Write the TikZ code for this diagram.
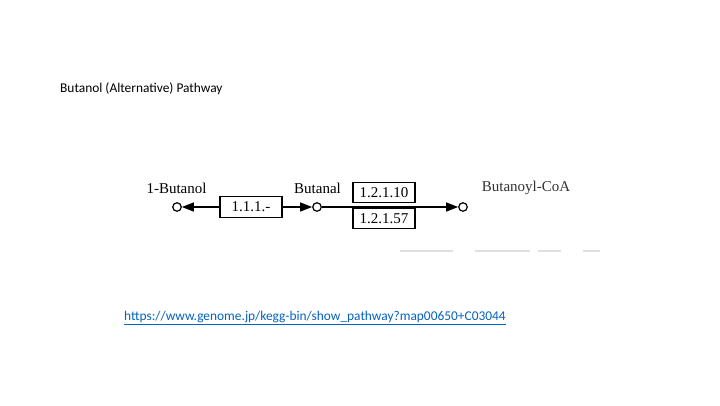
\documentclass[tikz,border=0pt]{standalone}
\usepackage{fontspec}
\setmainfont{Carlito}
\newfontfamily\diagfont{Liberation Serif}
\usetikzlibrary{arrows.meta}
\definecolor{linkblue}{HTML}{0563C1}
\begin{document}
\begin{tikzpicture}[x=1pt,y=-1pt,
  slidetext/.style={anchor=west,inner sep=0pt,font=\fontsize{13.4}{16}\selectfont},
  cpd/.style={circle,draw,line width=1.2pt,minimum size=8.5pt,inner sep=0pt,fill=white},
  cpdlabel/.style={inner sep=0pt,font=\diagfont\fontsize{15}{18}\selectfont},
  enzyme/.style={draw,line width=1.2pt,minimum width=62pt,minimum height=20.5pt,inner sep=0pt,font=\diagfont\fontsize{15}{18}\selectfont},
  rxn/.style={line width=1.2pt,-{Triangle[length=12pt,width=9pt]}},
  artifact/.style={line width=1.5pt,gray!25}]
\useasboundingbox (0,0) rectangle (720,405);
\fill[white] (0,0) rectangle (720,405);
% slide texts
\node[slidetext] (title) at (60,89) {Butanol (Alternative) Pathway};
\node[slidetext,text=linkblue] (url) at (124,318) {\underline{https://www.genome.jp/kegg-bin/show\_pathway?map00650+C03044}};
% compounds
\node[cpd] (c1) at (177,207) {};
\node[cpd] (c2) at (317,207) {};
\node[cpd] (c3) at (463,207) {};
\node[cpdlabel] (l1) at (176.5,188) {1-Butanol};
\node[cpdlabel] (l2) at (317.5,188) {Butanal};
\node[cpdlabel,text=black!80] (l3) at (526,188) {Butanoyl-CoA};
% enzymes
\node[enzyme] (e1) at (251,207) {1.1.1.-};
\node[enzyme] (e2) at (384,192.5) {1.2.1.10};
\node[enzyme] (e3) at (384,218.5) {1.2.1.57};
% reactions
\draw[rxn] (e1.west) -- (c1);
\draw[rxn] (e1.east) -- (c2);
\draw[rxn] (c2) -- (c3);
% faint artifacts
\coordinate (a1) at (400,251); \coordinate (a2) at (453,251);
\coordinate (a3) at (475,251); \coordinate (a4) at (530,251);
\coordinate (a5) at (538,251); \coordinate (a6) at (561,251);
\coordinate (a7) at (583,251); \coordinate (a8) at (600,251);
\draw[artifact] (a1) -- (a2);
\draw[artifact] (a3) -- (a4);
\draw[artifact] (a5) -- (a6);
\draw[artifact] (a7) -- (a8);
\end{tikzpicture}
\end{document}
